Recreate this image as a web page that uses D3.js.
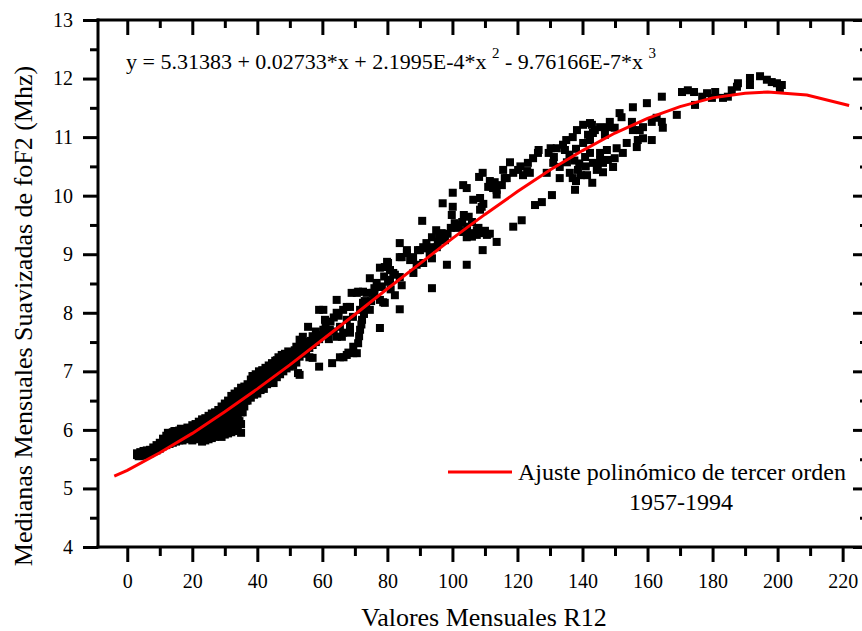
<!DOCTYPE html>
<html><head><meta charset="utf-8">
<script src="https://cdn.jsdelivr.net/npm/d3@7"></script>
<style>
body{margin:0;background:#fff}
svg{display:block}
text{font-family:"Liberation Serif","Times New Roman",serif;fill:#000}
</style>
</head><body>
<svg id="chart" width="862" height="631"></svg>
<script>
// ---- data ----
const xMajorTicks = [0,20,40,60,80,100,120,140,160,180,200,220];
const xMinorTicks = [10,30,50,70,90,110,130,150,170,190,210];
const yMajorTicks = [4,5,6,7,8,9,10,11,12,13];
const yMinorTicks = [4.5,5.5,6.5,7.5,8.5,9.5,10.5,11.5,12.5];

const xTitle = "Valores Mensuales R12";
const yTitle = "Medianas Mensuales Suavizadas de foF2 (Mhz)";
const legendLine1 = "Ajuste polinómico de tercer orden";
const legendLine2 = "1957-1994";

// fitted curve as drawn (R12, foF2)
const fitR12  = [-4,0,10,20,30,40,50,60,70,80,90,100,110,120,130,140,150,160,170,180,190,197,209,222];
const fitFoF2 = [5.21,5.31,5.61,5.94,6.31,6.70,7.11,7.54,7.97,8.41,8.84,9.27,9.68,10.07,10.44,10.77,11.07,11.32,11.52,11.67,11.75,11.77,11.72,11.54];

// observed monthly points [R12, foF2]
const lowActivity = [
[3,5.57],[3,5.6],[3.5,5.55],[4,5.56],[4,5.62],[4.5,5.6],[5,5.58],[5,5.64],[5.5,5.56],[6,5.6],[6,5.65],[6.5,5.62],[7,5.6],[7,5.66],[7.5,5.64],[8,5.63],[8,5.7],[8.5,5.66],[9,5.65],[9,5.74],[9.5,5.7],
[10,5.68],[10,5.78],[10.5,5.73],[11,5.72],[11,5.85],[11.5,5.78],[12,5.74],[12,5.9],[12.5,5.82],[13,5.76],[13,5.93],[13.5,5.85],[14,5.78],[14,5.96],[14.5,5.88],[15,5.8],[15,5.98],[15.5,5.9],[16,5.82],[16,5.99],[16.5,5.92],[17,5.82],[17,6.0],[17.5,5.9],[18,5.84],[18,6.0],[18.5,5.94],[19,5.86],[19,6.03],[19.5,5.96],
[20,5.82],[20,5.95],[20,6.08],[21,5.84],[21,5.98],[21,6.1],[22,5.86],[22,6.0],[22,6.14],[23,5.8],[23,5.95],[23,6.08],[23,6.18],[24,5.82],[24,5.98],[24,6.12],[24,6.2],[25,5.84],[25,6.0],[25,6.15],[25,6.24],[26,5.86],[26,6.02],[26,6.18],[26,6.28],[27,5.88],[27,6.05],[27,6.2],[27,6.3],[28,5.9],[28,6.06],[28,6.22],[28,6.34],[29,5.88],[29,6.08],[29,6.25],[29,6.4],
[30,5.92],[30,6.1],[30,6.28],[30,6.45],[31,5.94],[31,6.12],[31,6.3],[31,6.5],[32,5.96],[32,6.15],[32,6.35],[32,6.58],[33,5.98],[33,6.2],[33,6.4],[33,6.62],[34,6.0],[34,6.25],[34,6.45],[34,6.66],[35,5.95],[35,6.1],[35,6.3],[35,6.5],[35,6.72],[36,6.4],[36,6.6],[36,6.74],[37,6.5],[37,6.68],[37,6.78],
[20.5,5.88],[20.5,6.02],[21.5,5.9],[21.5,6.05],[22.5,5.92],[22.5,6.08],[23.5,5.88],[23.5,6.02],[23.5,6.15],[24.5,5.9],[24.5,6.06],[24.5,6.18],[25.5,5.92],[25.5,6.08],[25.5,6.22],[26.5,5.94],[26.5,6.1],[26.5,6.24],[27.5,5.96],[27.5,6.12],[27.5,6.27],[28.5,5.98],[28.5,6.14],[28.5,6.3],[29.5,6.0],[29.5,6.17],[29.5,6.35],
[30.5,6.02],[30.5,6.2],[30.5,6.38],[31.5,6.04],[31.5,6.22],[31.5,6.42],[32.5,6.06],[32.5,6.26],[32.5,6.5],[33.5,6.1],[33.5,6.32],[33.5,6.55],[34.5,6.15],[34.5,6.38],[34.5,6.6],[35.5,6.3],[35.5,6.55],[36.5,6.5],[36.5,6.68],[12.5,5.95],[14.5,5.98],[16.5,6.02],[18.5,6.04]
];
const risingPhase = [
[38,6.55],[38,6.72],[38,6.86],[39,6.6],[39,6.8],[40,6.62],[40,6.78],[40,6.92],[41,6.68],[41,6.88],[42,6.7],[42,6.85],[42,6.98],[43,6.78],[43,6.95],[44,6.8],[44,6.92],[44,7.05],[45,6.8],[45,6.98],[45,7.12],[46,6.9],[46,7.05],[46,7.19],[47,6.95],[47,7.14],[48,7.0],[48,7.12],[48,7.24],[49,7.05],[49,7.2],
[38.5,6.65],[38.5,6.92],[39.5,6.7],[39.5,6.95],[40.5,6.72],[40.5,7.0],[41.5,6.78],[41.5,7.02],[42.5,6.8],[42.5,7.06],[43.5,6.86],[43.5,7.1],[44.5,6.88],[44.5,7.14],[45.5,6.92],[45.5,7.18],[46.5,6.98],[46.5,7.24],[47.5,7.02],[47.5,7.28],[48.5,7.06],[48.5,7.3],[49.5,7.12],[49.5,7.34],
[50,7.08],[50,7.22],[50,7.31],[51,7.1],[51,7.28],[52,7.15],[52,7.42],[52.5,6.97],[53,7.25],[53,7.54],[53,6.94],[54,7.3],[54,7.45],[54,7.59],[55,7.35],[55,7.5],[55.6,7.76],[56,7.4],[56,7.24],[57,7.45],[57,7.6],[57,7.23],[58,7.5],[58,7.68],[59,7.08],[59,7.55],[59,8.05],
[50.5,7.15],[51.5,7.2],[51.5,7.36],[52.5,7.28],[53.5,7.38],[54.5,7.4],[55.5,7.44],[56.5,7.52],[57.5,7.56],[58.5,7.62],
[60.3,8.05],[60.8,7.88],[60.3,7.71],[60,7.6],[61,7.62],[61,7.8],[62.3,7.71],[62,7.55],[63,7.14],[63.5,7.68],[64.4,8.22],[64.4,8.0],[64.5,7.59],[65.4,7.24],[65.4,7.76],[66,7.59],[66.4,8.05],[66.4,7.66],[67.5,7.88],[67.5,8.1],[68.5,8.1],[68.5,7.66],[68.5,7.76],[69,8.34],[69.4,7.93],[69.5,7.31],[69.5,7.42],
[62.5,7.85],[63.5,7.92],[65,7.95],[66.5,7.24],[67.5,7.28],[68,7.32],
[70.6,7.31],[70.6,8.34],[71,8.36],[71,7.48],[71.6,7.71],[71.6,8.05],[72.2,7.88],[72.5,8.17],[72.5,8.36],[73.6,8.34],[73,8.2],[74.6,8.59],[74.6,8.05],[75.5,8.34],[76,8.42],[76.7,8.51],[77.7,8.22],[77.7,7.74],[77.7,8.77],[78,8.45],[78.7,8.18],[79.2,8.17],[79,8.62],[79.9,8.87],
[71.3,7.6],[72,7.8],[72.8,7.98],[73.5,8.1],[75,8.2],[76,8.3],
[80.2,8.85],[80.8,8.73],[80.8,8.56],[81,8.4],[82.3,8.65],[82.3,8.3],[83.8,8.06],[83.8,9.19],[84.4,8.47],[84.4,8.95],[86,9.02],[87,8.9],[88,8.68],[89,8.82],[89.4,9.07],[86,9.07],[87.9,8.95],[83.8,8.95],[79.2,8.78],[81.8,8.68],[83.8,8.61],[80.2,8.53],[78.3,8.44],
[90.7,9.57],[91.6,9.1],[92,9.19],[93,9.02],[93.7,9.29],[96,9.33],[97,9.24],[95.2,9.12],[93.7,8.42],[98.3,8.82],[93.7,8.93],[91,8.85],[95,9.41],[96.7,9.36],[97.7,9.24],[93,9.12],[95.5,9.21],[90,9.07],[91,9.12]
];
const highActivity = [
[97,9.87],[100.1,9.81],[99.8,9.67],[100.7,9.53],[100.1,10.05],[103.3,10.18],[104.4,10.13],[106.4,9.93],[108.5,9.96],[109,9.81],[108.5,9.76],[109.5,9.86],[108.2,10.32],[109.3,10.39],[111,10.15],[113,10.23],[113.6,10.1],[115.2,10.18],[116.1,10.3],[115.6,10.44],[117.7,10.57],[111.5,10.25],[112.5,10.13],[113.6,10.02],[116.7,10.3],
[101.3,9.45],[103.3,9.38],[105.4,9.36],[107.5,9.33],[109.3,9.36],[110.6,9.33],[104.4,9.29],[107.5,9.41],[103.5,9.67],[105,9.64],[106,9.55],[104.5,9.47],[103,9.55],[102,9.5],[108,9.45],[110,9.4],[111.5,9.35],[106,9.3],[98.5,9.35],[99.5,9.45],
[109.3,9.07],[113.6,9.21],[104.4,8.82],[118.7,9.47],[121.3,9.58],[125.4,9.84],[127.5,9.89],[130.6,10.01],[137.7,10.1],
[118.7,10.39],[120.2,10.44],[121.7,10.35],[123.2,10.56],[124.8,10.64],[123.8,10.39],[126.3,10.73],[120.9,10.5],[123,10.42],[126.5,10.78],[129.6,10.73],[131.2,10.66],[129,10.39],[130.2,10.81],[132.1,10.81],[134,10.87],[134.6,10.78],[131,10.56],[133,10.49],[135.2,10.57],[136.1,10.39],[137,10.3],[138.6,10.44],[136,10.7],[138,10.8],[139,10.55],[135,10.95],[133,10.3],[137.5,10.6],[139.5,10.35],[141,10.5],[138,10.25],
[137,11.0],[138.3,11.12],[140.2,11.21],[142.3,11.24],[143.8,11.12],[141.7,11.04],[145.4,11.17],[140.2,10.9],[140.8,10.66],[142.3,10.73],[143.2,10.56],[144.4,10.44],[141.4,10.35],[143,10.22],[145.4,10.61],[146.3,10.4],[147.5,10.78],[146.9,11.04],[144.7,10.49],[146.3,10.56],[147.8,10.61],[149.4,10.49],[145.4,10.73],[149.9,10.64],[142.9,11.21],[143.2,11.07],[142.3,10.95],
[148.4,11.26],[147.8,11.17],[149.9,11.16],[151.4,11.41],[152,11.34],[150.5,10.81],[152.4,10.73],[153.6,10.9],[155.2,11.26],[155.5,11.12],[157.6,11.12],[157,10.95],[156.7,10.83],[158.6,10.98],[155.5,11.51],[158.6,11.17],[161.3,11.26],[162.8,11.33],[164.4,11.26],[164.7,11.16],[161.3,10.95],[159.8,11.58],[164.4,11.69],[169,11.38],
[170.6,11.77],[172.4,11.8],[174.3,11.77],[174.6,11.55],[176.8,11.69],[178.3,11.75],[180.8,11.77],[179.8,11.67],[183.2,11.67],[184.7,11.69],[185.9,11.8],[187.5,11.86],[187.8,11.92],[191.5,12.01],[191.5,11.89],[194.6,12.04],[196.7,11.98],[198.2,11.94],[199.8,11.92],[201.3,11.89],[200.7,11.84]
];

// ---- layout ----
const svg = d3.select("#chart");
svg.append("rect").attr("width",862).attr("height",631).attr("fill","#fff");

const L = 98, R = 868, T = 20, B = 547;
const x = d3.scaleLinear().domain([-9, 227.8]).range([L, R]);
const y = d3.scaleLinear().domain([4, 13]).range([B, T]);

const AX = 3;
const SERIF = '"Liberation Serif","Times New Roman",serif';
function styleAxis(g){
  g.attr("font-family", SERIF);
  g.select(".domain").remove();
  g.selectAll(".tick line").attr("stroke","#000").attr("stroke-width",AX);
  g.selectAll("text").attr("fill","#000").style("font-family",SERIF);
}

// bottom axis (ticks outward)
svg.append("g").attr("transform",`translate(0,${B})`)
  .call(d3.axisBottom(x).tickValues(xMajorTicks).tickSize(15).tickPadding(12).tickFormat(d3.format("d")))
  .call(styleAxis).call(g=>g.selectAll("text").style("font-size","20px"));
svg.append("g").attr("transform",`translate(0,${B})`)
  .call(d3.axisBottom(x).tickValues(xMinorTicks).tickSize(9).tickFormat(""))
  .call(styleAxis);
// top axis (ticks inward)
svg.append("g").attr("transform",`translate(0,${T})`)
  .call(d3.axisTop(x).tickValues(xMajorTicks).tickSize(-15).tickFormat(""))
  .call(styleAxis);
svg.append("g").attr("transform",`translate(0,${T})`)
  .call(d3.axisTop(x).tickValues(xMinorTicks).tickSize(-8).tickFormat(""))
  .call(styleAxis);
// left axis (ticks outward)
svg.append("g").attr("transform",`translate(${L},0)`)
  .call(d3.axisLeft(y).tickValues(yMajorTicks).tickSize(15).tickPadding(10).tickFormat(d3.format("d")))
  .call(styleAxis).call(g=>g.selectAll("text").style("font-size","20px"));
svg.append("g").attr("transform",`translate(${L},0)`)
  .call(d3.axisLeft(y).tickValues(yMinorTicks).tickSize(8).tickFormat(""))
  .call(styleAxis);
// right axis (ticks inward)
svg.append("g").attr("transform",`translate(${R},0)`)
  .call(d3.axisRight(y).tickValues(yMajorTicks).tickSize(-15).tickFormat(""))
  .call(styleAxis);
svg.append("g").attr("transform",`translate(${R},0)`)
  .call(d3.axisRight(y).tickValues(yMinorTicks).tickSize(-8).tickFormat(""))
  .call(styleAxis);

// frame lines
const frame = svg.append("g").attr("stroke","#000").attr("stroke-width",AX).attr("stroke-linecap","square");
frame.append("line").attr("x1",L).attr("x2",R).attr("y1",T).attr("y2",T);
frame.append("line").attr("x1",L).attr("x2",R).attr("y1",B).attr("y2",B);
frame.append("line").attr("x1",L).attr("x2",L).attr("y1",T).attr("y2",B);
frame.append("line").attr("x1",R).attr("x2",R).attr("y1",T).attr("y2",B);

// scatter
const allPoints = lowActivity.concat(risingPhase, highActivity);
const S = 8;
svg.append("g").selectAll("rect").data(allPoints).join("rect")
  .attr("x",d=>x(d[0])-S/2).attr("y",d=>y(d[1])-S/2)
  .attr("width",S).attr("height",S).attr("fill","#000");

// fit curve
const fitData = fitR12.map((r,i)=>[r,fitFoF2[i]]);
svg.append("path").datum(fitData)
  .attr("fill","none").attr("stroke","#ff0000").attr("stroke-width",3)
  .attr("d", d3.line().x(d=>x(d[0])).y(d=>y(d[1])));

// equation
const eq = svg.append("text").attr("x",126).attr("y",68.5).style("font-size","22px").style("white-space","pre");
eq.append("tspan").text("y = 5.31383 + 0.02733*x + 2.1995E-4*x ");
eq.append("tspan").attr("dy",-11).style("font-size","15px").text("2");
eq.append("tspan").attr("dy",11).text(" - 9.76166E-7*x ");
eq.append("tspan").attr("dy",-11).style("font-size","15px").text("3");

// legend
svg.append("line").attr("x1",448).attr("x2",512).attr("y1",472).attr("y2",472)
  .attr("stroke","#ff0000").attr("stroke-width",3);
svg.append("text").attr("x",518).attr("y",480).style("font-size","24px").text(legendLine1);
svg.append("text").attr("x",681).attr("y",510).attr("text-anchor","middle").style("font-size","24px").text(legendLine2);

// axis titles
svg.append("text").attr("x",484).attr("y",626).attr("text-anchor","middle").style("font-size","26px").text(xTitle);
svg.append("text").attr("transform","translate(32,316) rotate(-90)").attr("text-anchor","middle").style("font-size","26px").text(yTitle);
</script>
</body></html>
